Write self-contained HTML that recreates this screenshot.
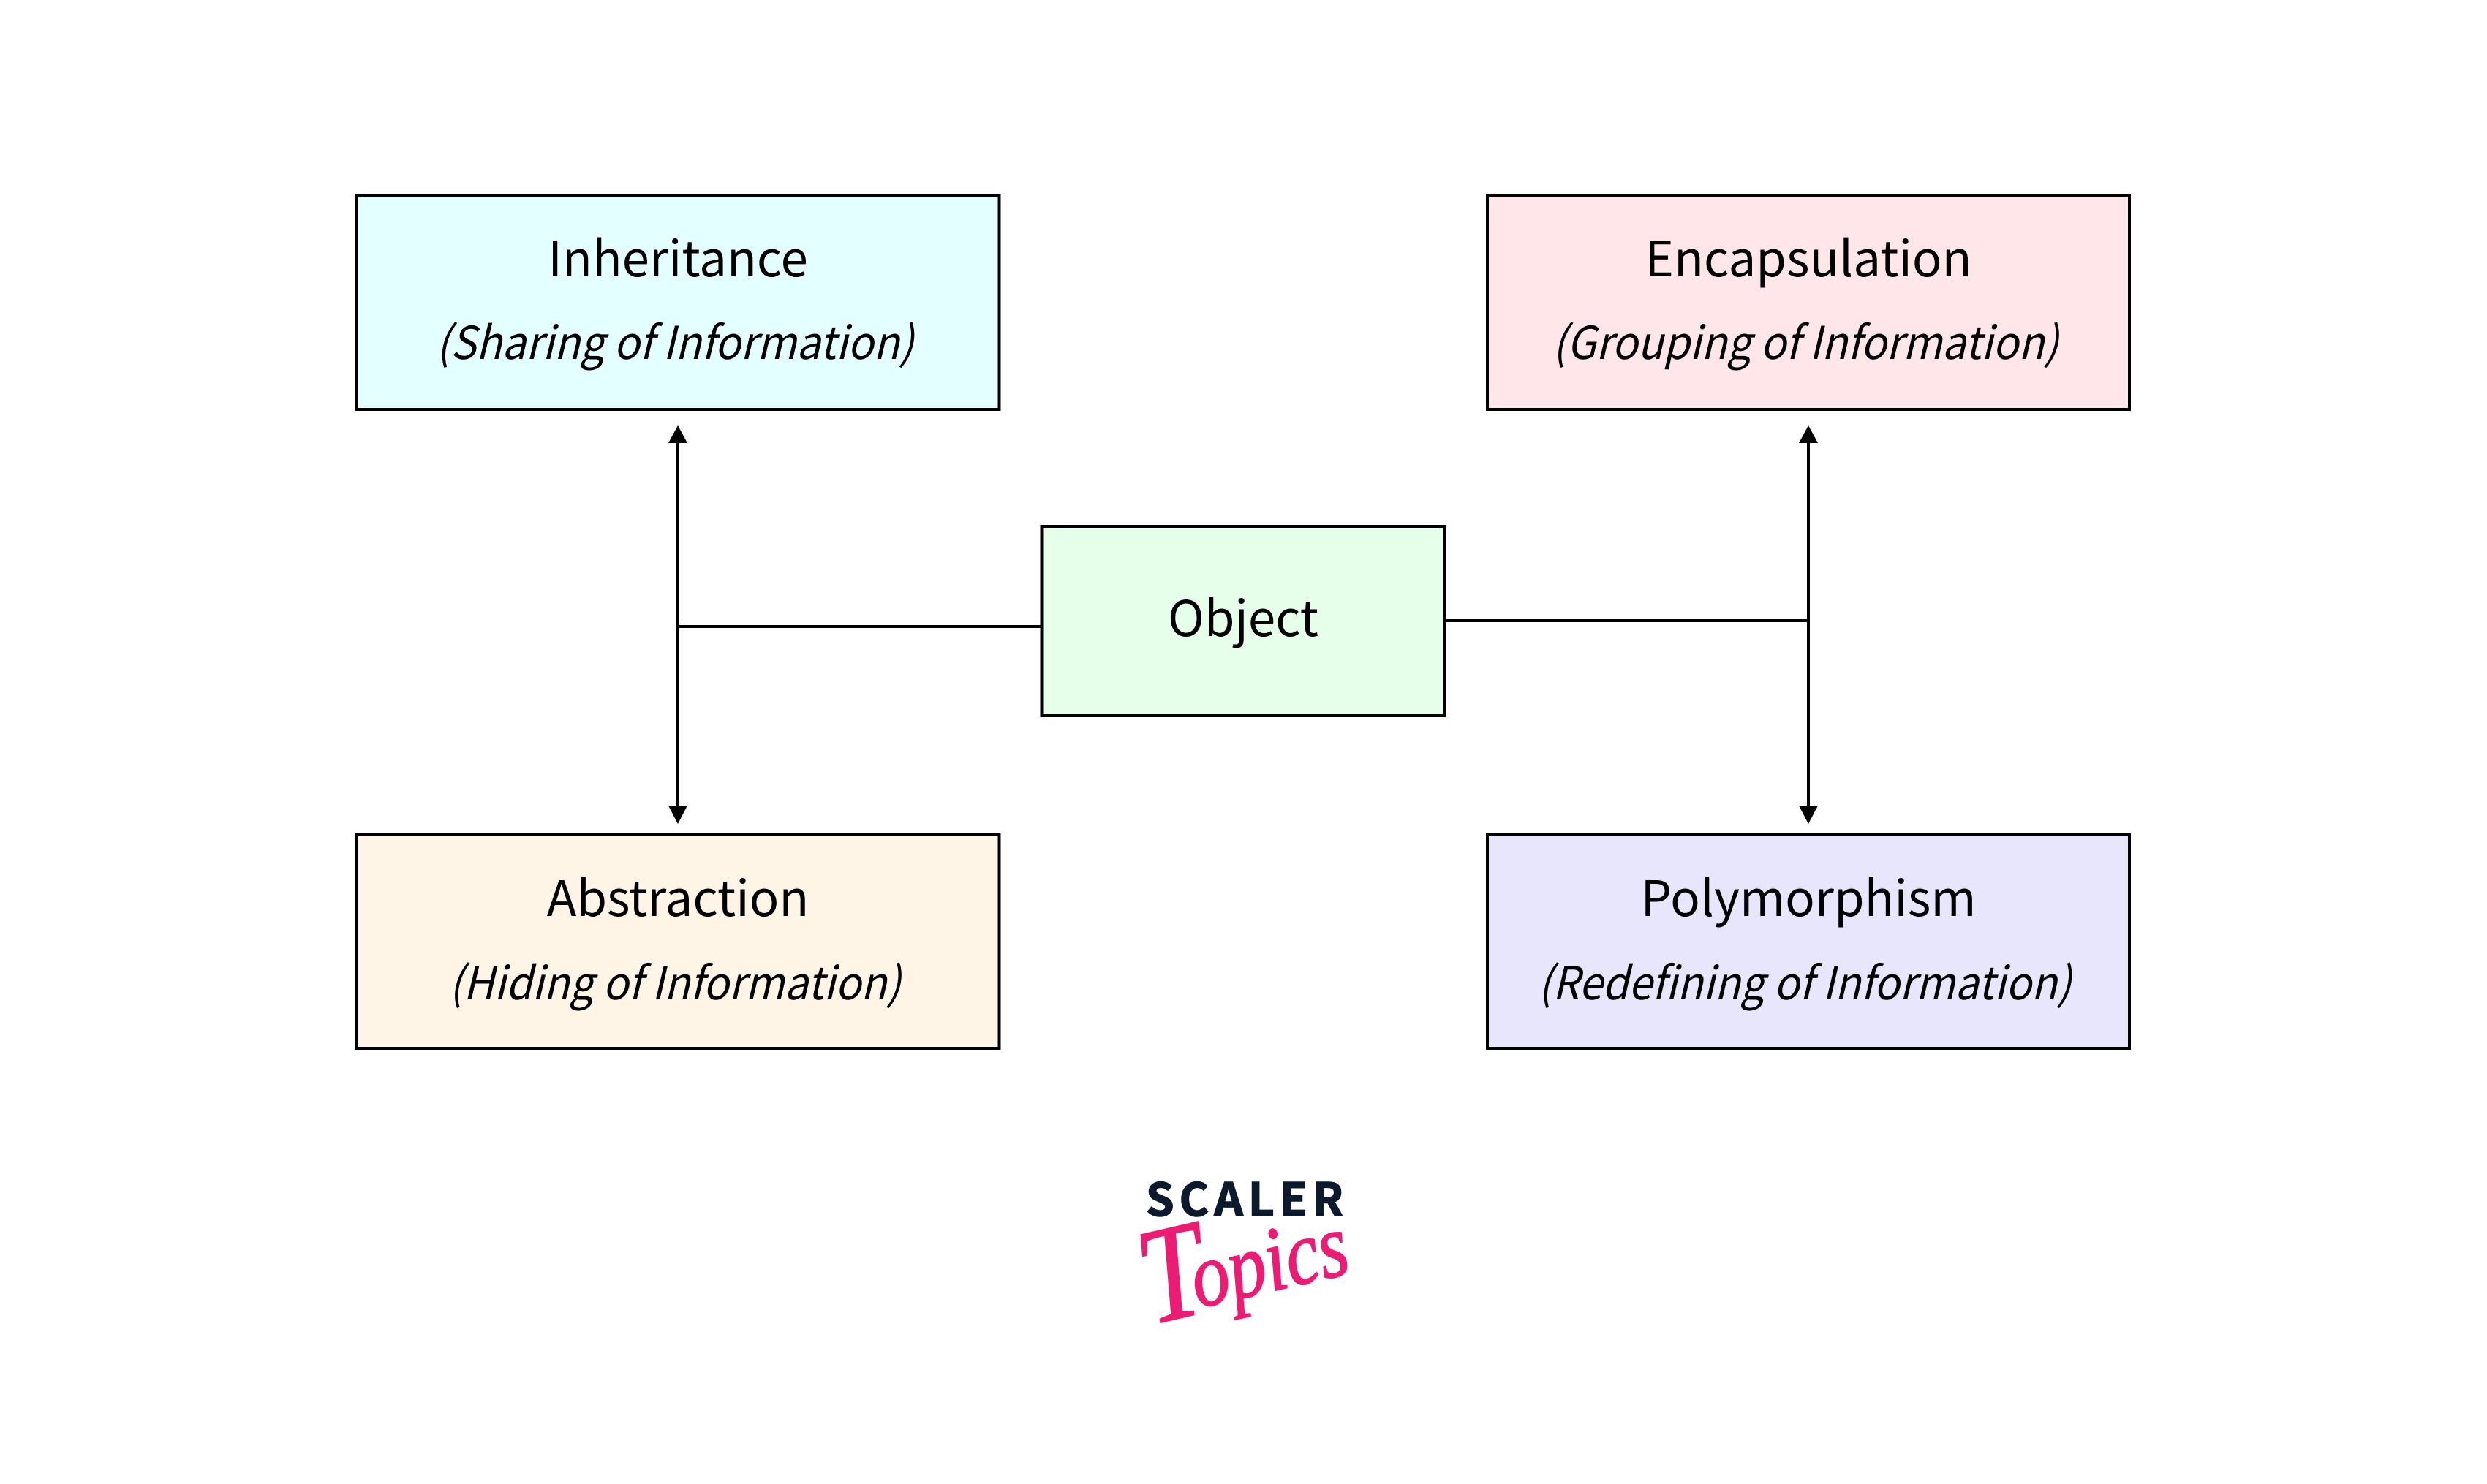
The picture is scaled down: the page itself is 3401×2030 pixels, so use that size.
<!DOCTYPE html>
<html>
<head>
<meta charset="utf-8">
<style>
html,body{margin:0;padding:0;background:#fff;width:3401px;height:2030px;overflow:hidden}
svg{display:block}
.t{font-family:"Noto Sans CJK JP","Liberation Sans",sans-serif;font-size:67.200px;fill:#000;text-anchor:middle}
.s{font-family:"Noto Sans CJK JP","Liberation Sans",sans-serif;font-size:62px;font-style:italic;fill:#000;text-anchor:middle}
</style>
</head>
<body>
<svg width="3401" height="2030" viewBox="0 0 3401 2030" xmlns="http://www.w3.org/2000/svg">
<rect width="3401" height="2030" fill="#fff"/>
<g stroke="#000" stroke-width="4">
<rect x="487.500" y="267" width="879" height="293" fill="#E4FFFF"/>
<rect x="2034" y="267" width="878" height="293" fill="#FFE6E9"/>
<rect x="1424.500" y="720" width="551" height="259" fill="#E5FFEA"/>
<rect x="487.500" y="1142" width="879" height="292" fill="#FFF5E7"/>
<rect x="2034" y="1142" width="878" height="292" fill="#E7E6FD"/>
<path d="M927 604V1104M927 857H1424M2473 604V1104M1976 849H2473" fill="none"/>
</g>
<path d="M927 582L940 606H914ZM927 1127L914 1102H940ZM2473 582L2486 606H2460ZM2473 1127L2460 1102H2486Z" fill="#000"/>
<text class="t" x="927" y="378">Inheritance</text>
<text class="s" x="923" y="491" textLength="653" lengthAdjust="spacingAndGlyphs">(Sharing of Information)</text>
<text class="t" x="2473" y="378">Encapsulation</text>
<text class="s" x="2469" y="491" textLength="692" lengthAdjust="spacingAndGlyphs">(Grouping of Information)</text>
<text class="t" x="1700" y="870">Object</text>
<text class="t" x="927" y="1253">Abstraction</text>
<text class="s" x="923" y="1367" textLength="618" lengthAdjust="spacingAndGlyphs">(Hiding of Information)</text>
<text class="t" x="2473" y="1253">Polymorphism</text>
<text class="s" x="2468" y="1367" textLength="729" lengthAdjust="spacingAndGlyphs">(Redefining of Information)</text>
<text x="1567" y="1663" textLength="270" lengthAdjust="spacing" font-family="'Noto Sans CJK JP','Liberation Sans',sans-serif" font-weight="700" font-size="62" fill="#0B1A2C" stroke="#0B1A2C" stroke-width="1.500">SCALER</text>
<text transform="translate(1574 1812) rotate(-13) scale(1.03 1.25)" font-family="'Liberation Serif',serif" font-style="italic" fill="#EC1C75" stroke="#EC1C75" stroke-width="1.500"><tspan font-size="150">T</tspan><tspan font-size="100" dx="-18" dy="-6">opics</tspan></text>
</svg>
</body>
</html>
